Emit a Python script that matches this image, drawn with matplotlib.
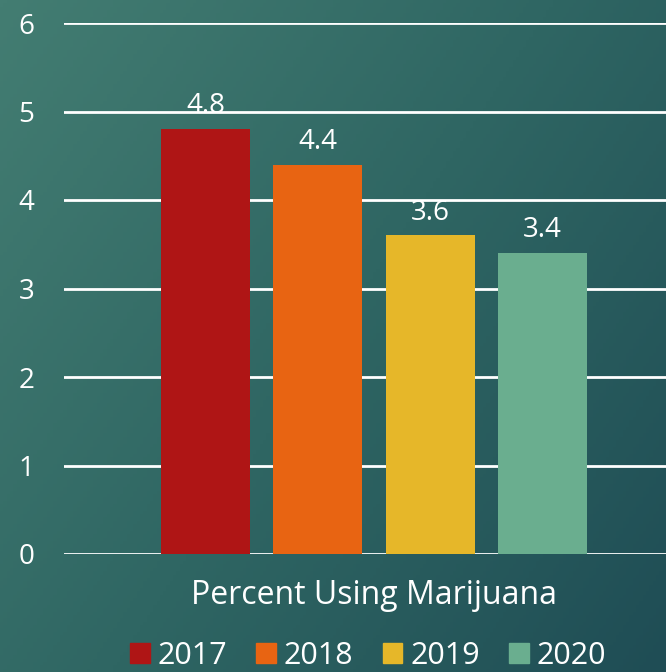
import numpy as np
import matplotlib.pyplot as plt
from matplotlib.colors import LinearSegmentedColormap

plt.rcParams['font.family'] = ['Open Sans', 'DejaVu Sans']
plt.rcParams['font.size'] = 20

years = ['2017', '2018', '2019', '2020']
values = [4.8, 4.4, 3.6, 3.4]
colors = ['#AF1515', '#E86412', '#E6B729', '#6AAE8F']
category = 'Percent Using Marijuana'

fig = plt.figure(figsize=(6.66, 6.72), dpi=100)

# background gradient (top-left lighter teal -> bottom-right darker)
bg = fig.add_axes([0, 0, 1, 1], zorder=0)
bg.axis('off')
gx, gy = np.meshgrid(np.linspace(0, 1, 200), np.linspace(0, 1, 200))
grad = (gx * 0.6 + gy * 0.4)
cmap = LinearSegmentedColormap.from_list('bg', ['#437d72', '#2f6663', '#1f4d55'])
bg.imshow(grad, cmap=cmap, aspect='auto', extent=[0, 1, 0, 1], origin='upper')

ax = fig.add_axes([64/666, (672-554)/672, (666-64)/666, (554-23)/672], zorder=1)
ax.set_facecolor('none')

x = np.arange(len(years))
ax.bar(x, values, width=0.79, color=colors, zorder=3)
for xi, v in zip(x, values):
    ax.text(xi, v + 0.1, f'{v}', ha='center', va='bottom', color='white', fontsize=20)

ax.set_xlim(-1.26, 4.10)
ax.set_ylim(0, 6)
ax.set_yticks(range(0, 7))
ax.yaxis.grid(True, color='white', lw=2)
ax.set_axisbelow(True)
ax.tick_params(axis='y', length=0, pad=27, colors='white', labelsize=20)
ax.set_yticklabels([str(i) for i in range(0, 7)], ha='center')
ax.set_xticks([])
for s in ax.spines.values():
    s.set_visible(False)

fig.text(374/666, 1 - 596/672, category, ha='center', va='center', color='white', fontsize=23)

handles = [plt.Rectangle((0, 0), 1, 1, color=c) for c in colors]
leg = fig.legend(handles, years, loc='center', bbox_to_anchor=(368/666, 1 - 656/672), ncol=4,
                 frameon=False, handlelength=0.65, handleheight=0.65, handletextpad=0.25,
                 columnspacing=0.95, fontsize=22)
for t in leg.get_texts():
    t.set_color('white')

fig.savefig('out.png', dpi=100)
